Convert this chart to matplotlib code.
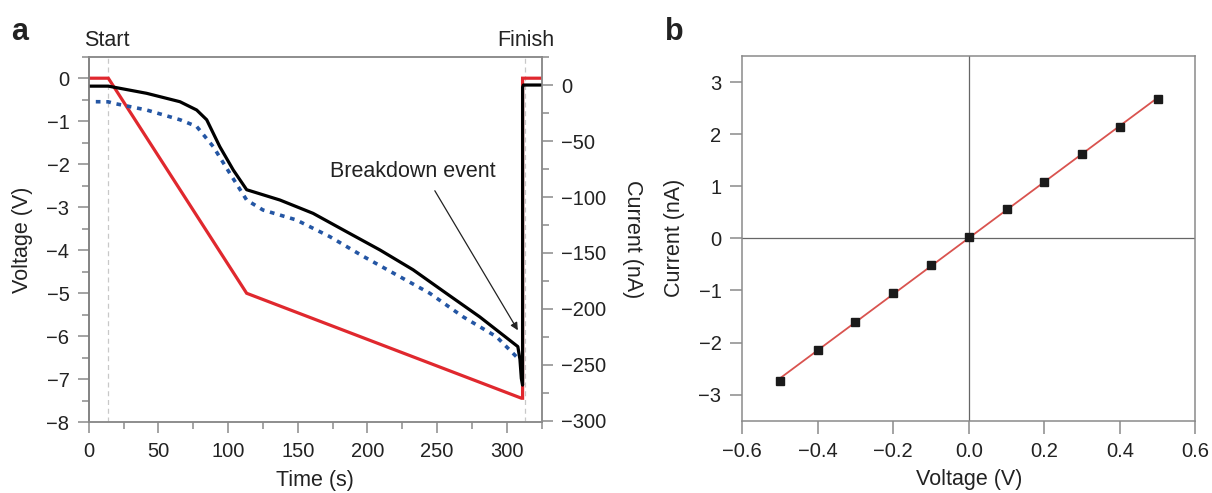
import numpy as np
import matplotlib
matplotlib.use("Agg")
import matplotlib.pyplot as plt
from matplotlib.ticker import MultipleLocator
from matplotlib.transforms import blended_transform_factory

plt.rcParams['font.family'] = ['Liberation Sans', 'DejaVu Sans']
plt.rcParams['axes.unicode_minus'] = True

# ---- panel a: bias ramp (V) and ionic current (nA) vs time ----
ramp_time = [0, 14, 113.3, 310.6, 311.4, 311.4, 325]
ramp_voltage = [0, 0, -5.0, -7.44, -7.44, 0, 0]

current_time = [0, 14, 41.5, 65.4, 77.4, 84.6, 94, 103.7, 113.3, 137.2, 161, 185, 209,
                232.8, 256.6, 280.6, 308, 309.5, 310.5, 311.4, 311.4, 312, 325]
current_na = [-1, -1, -7.4, -14.9, -22.3, -31, -55, -75.9, -93.5, -102.7, -114.6, -131, -147.3,
              -165, -186, -207, -233.6, -245, -262, -268, -2, 0, 0]

model_time = [5, 14, 17.6, 41.5, 65.4, 77.4, 89.3, 101.3, 113.3, 125, 149, 173, 197, 221,
              244.8, 268.7, 292.6, 309.3]
model_na = [-14.9, -15, -16.3, -22.3, -31, -37, -55, -79, -102.7, -111.6, -120.5, -135.4,
            -153, -169.6, -186, -207, -224.7, -245.5]

start_t, finish_t = 14, 313
breakdown_xy = (308, -219)

# ---- panel b: I-V check ----
iv_voltage = [-0.5, -0.4, -0.3, -0.2, -0.1, 0.0, 0.1, 0.2, 0.3, 0.4, 0.5]
iv_current = [-2.74, -2.15, -1.60, -1.045, -0.51, 0.02, 0.56, 1.09, 1.62, 2.14, 2.67]

RED = '#e0282e'
BLUE = '#2456a4'
SPINE = '#8a8a8a'
TXT = '#222222'
TICK_FS = 14.5
LABEL_FS = 15.5

fig = plt.figure(figsize=(12.12, 4.93), dpi=100)
ax = fig.add_axes([0.0733, 0.1434, 0.3735, 0.7416])
ax2 = ax.twinx()

ax.plot(ramp_time, ramp_voltage, color=RED, lw=2.3, solid_joinstyle='miter')
ax2.plot(model_time, model_na, color=BLUE, lw=2.6, dashes=(1.3, 1.6))
ax2.plot(current_time, current_na, color='black', lw=2.3)

ax.set_xlim(0, 325)
ax.set_ylim(-8, 0.5)
ax2.set_ylim(-301.2, 25.3)

for t in (start_t, finish_t):
    ax.axvline(t, color='#c8c8c8', lw=0.9, ls=(0, (4, 3)), zorder=0)

trans = blended_transform_factory(ax.transData, ax.transAxes)
ax.text(13, 1.045, 'Start', transform=trans, ha='center', va='center', color=TXT, fontsize=LABEL_FS)
ax.text(313.4, 1.045, 'Finish', transform=trans, ha='center', va='center', color=TXT, fontsize=LABEL_FS)

ax2.text(232.6, -77.4, 'Breakdown event', ha='center', va='center', color=TXT, fontsize=LABEL_FS)
ax2.annotate('', xy=breakdown_xy, xytext=(248.4, -94.4),
             arrowprops=dict(arrowstyle='-|>', lw=0.9, color='#222222', mutation_scale=11,
                             shrinkA=0, shrinkB=0))

ax.xaxis.set_major_locator(MultipleLocator(50))
ax.xaxis.set_minor_locator(MultipleLocator(25))
ax.yaxis.set_major_locator(MultipleLocator(1))
ax.yaxis.set_minor_locator(MultipleLocator(0.5))
ax2.yaxis.set_major_locator(MultipleLocator(50))
ax2.yaxis.set_minor_locator(MultipleLocator(25))

for a in (ax, ax2):
    for s in a.spines.values():
        s.set_color(SPINE)
        s.set_linewidth(1.1)
    a.tick_params(which='major', direction='out', length=8, width=1.1, color=SPINE,
                  labelcolor=TXT, labelsize=TICK_FS, pad=6)
    a.tick_params(which='minor', direction='out', length=5, width=1.1, color=SPINE)
ax.spines['left'].set_color('#555555')

ax.set_xlabel('Time (s)', color=TXT, fontsize=LABEL_FS)
ax.set_ylabel('Voltage (V)', color=TXT, fontsize=LABEL_FS)
ax2.set_ylabel('Current (nA)', color=TXT, fontsize=LABEL_FS, rotation=-90)
ax.xaxis.label.set_va('center')
ax.yaxis.label.set_va('center')
ax2.yaxis.label.set_va('center')
ax.xaxis.set_label_coords(0.5, -0.158)
ax.yaxis.set_label_coords(-0.147, 0.5)
ax2.yaxis.set_label_coords(1.2, 0.5)

# ---- panel b ----
bx = fig.add_axes([0.6124, 0.1467, 0.3738, 0.7398])
fit = np.polyfit(iv_voltage, iv_current, 1)
fit_v = np.array([iv_voltage[0], iv_voltage[-1]])
bx.axhline(0, color='#666666', lw=0.9, zorder=1)
bx.axvline(0, color='#666666', lw=0.9, zorder=1)
bx.plot(fit_v, np.polyval(fit, fit_v), color='#d9534f', lw=1.3, zorder=2)
bx.plot(iv_voltage, iv_current, 's', color='#1a1a1a', ms=6, zorder=3)

bx.set_xlim(-0.6, 0.6)
bx.set_ylim(-3.5, 3.5)
bx.set_xticks(np.arange(-0.6, 0.61, 0.2))
bx.set_xticklabels(['\u22120.6', '\u22120.4', '\u22120.2', '0.0', '0.2', '0.4', '0.6'])
bx.set_yticks(range(-3, 4))
for s in bx.spines.values():
    s.set_color(SPINE)
    s.set_linewidth(1.1)
bx.tick_params(direction='out', length=9, width=1.1, color=SPINE, labelcolor=TXT,
               labelsize=TICK_FS, pad=6)
bx.set_xlabel('Voltage (V)', color=TXT, fontsize=LABEL_FS)
bx.set_ylabel('Current (nA)', color=TXT, fontsize=LABEL_FS)
bx.xaxis.label.set_va('center')
bx.yaxis.label.set_va('center')
bx.xaxis.set_label_coords(0.5, -0.16)
bx.yaxis.set_label_coords(-0.149, 0.5)

# panel letters
fig.text(0.009, 0.935, 'a', fontsize=22, fontweight='bold', color=TXT, va='center')
fig.text(0.549, 0.935, 'b', fontsize=22, fontweight='bold', color=TXT, va='center')

fig.savefig('out.png', dpi=100)
